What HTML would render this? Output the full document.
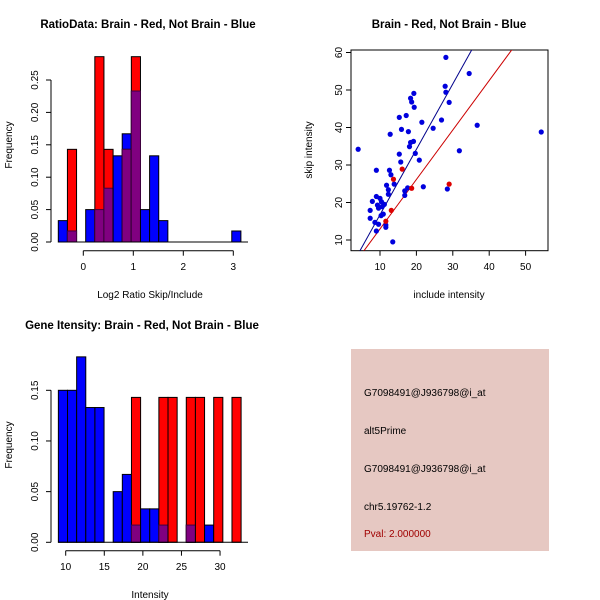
<!DOCTYPE html>
<html><head><meta charset="utf-8"><style>
html,body{margin:0;padding:0;background:#fff;}
svg{display:block;font-family:"Liberation Sans",sans-serif;}
</style></head><body>
<svg id="c" width="600" height="600" viewBox="0 0 600 600" xmlns="http://www.w3.org/2000/svg">
<rect width="600" height="600" fill="#fff"/>
<g id="p1"></g>
<g id="p2"></g>
<g id="p3"></g>
<g id="p4">
<rect x="351" y="349" width="198" height="202" fill="#e6c8c2"/>
<text x="364" y="396" font-size="10" fill="#000">G7098491@J936798@i_at</text>
<text x="364" y="434" font-size="10" fill="#000">alt5Prime</text>
<text x="364" y="472" font-size="10" fill="#000">G7098491@J936798@i_at</text>
<text x="364" y="510" font-size="10" fill="#000">chr5.19762-1.2</text>
<text x="364" y="537" font-size="10" fill="#a00000">Pval: 2.000000</text>
</g>
</svg>
<script>
// ---- Plot 1 data ----
const ratioBinStart = -0.5;
const ratioBinWidth = 0.1826;
const ratioBlue = [0.033,0.017,0,0.05,0.05,0.083,0.133,0.167,0.233,0.05,0.133,0.033,0,0,0,0,0,0,0,0.017];
const ratioRed  = [0,0.143,0,0,0.286,0.143,0,0.143,0.286,0,0,0,0,0,0,0,0,0,0,0];
const ratioXTicks = [0,1,2,3];
const ratioYTicks = ["0.00","0.05","0.10","0.15","0.20","0.25"];
// ---- Plot 2 data ----
const blueX = [4.0,28.1,34.5,27.9,28.1,29.0,36.7,54.3,26.9,24.6,31.8,28.5,21.9,21.5,19.3,18.4,18.7,19.4,17.2,15.3,15.9,17.8,19.2,18.4,18.1,19.7,15.3,15.7,20.8,12.8,9.0,12.6,13.0,13.9,11.8,12.3,12.3,17.6,16.8,16.8,9.0,10.0,10.4,7.9,11.2,9.3,10.6,9.6,7.3,10.9,10.3,7.3,8.6,9.6,11.6,11.6,9.0,13.5];
const blueY = [34.2,58.7,54.4,51.0,49.4,46.7,40.6,38.8,42.0,39.8,33.8,23.6,24.2,41.4,49.1,47.8,46.8,45.4,43.2,42.7,39.5,38.9,36.3,36.0,34.9,33.1,32.9,30.8,31.3,38.2,28.6,28.6,27.4,24.9,24.6,23.4,22.2,23.9,23.1,21.9,21.6,21.1,20.2,20.3,19.5,19.3,18.9,18.5,17.9,16.9,16.5,15.8,14.7,14.2,14.0,13.4,12.4,9.5];
const redX = [16.1,13.7,18.7,29.0,13.1,11.6];
const redY = [28.9,26.2,23.8,24.9,17.9,15.0];
const blueFit = [-0.7,1.744]; // intercept, slope
const redFit = [-0.24,1.319];
const scatXTicks = [10,20,30,40,50];
const scatYTicks = [10,20,30,40,50,60];
// ---- Plot 3 data ----
const geneBinStart = 9.05;
const geneBinWidth = 1.184;
const geneBlue = [0.15,0.15,0.183,0.133,0.133,0,0.05,0.067,0.017,0.033,0.033,0.017,0,0,0.017,0,0.017,0,0,0];
const geneRed  = [0,0,0,0,0,0,0,0,0.143,0,0,0.143,0.143,0,0.143,0.143,0,0.143,0,0.143];
const geneXTicks = [10,15,20,25,30];
const geneYTicks = ["0.00","0.05","0.10","0.15"];

const NS="http://www.w3.org/2000/svg";
function mk(parent,tag,attrs,name,txt){
  const e=document.createElementNS(NS,tag);
  for(const k in attrs) e.setAttribute(k,attrs[k]);
  
  
  if(txt!==undefined) e.textContent=txt;
  parent.appendChild(e); return e;
}
function line(g,x1,y1,x2,y2,name,stroke){return mk(g,'line',{x1,y1,x2,y2,stroke:stroke||'#000','stroke-width':1},name);}
function text(g,x,y,s,name,opt){
  opt=opt||{};
  const a={x,y,'font-size':opt.size||10,'text-anchor':opt.anchor||'middle',fill:opt.fill||'#000'};
  if(opt.bold)a['font-weight']='bold';
  if(opt.rot!==undefined)a.transform=`rotate(${opt.rot} ${x} ${y})`;
  return mk(g,'text',a,name,s);
}
function hist(g,start,w,blue,red,sx,sy,y0){
  for(let i=0;i<blue.length;i++){
    const x0=sx(start+i*w), x1=sx(start+(i+1)*w);
    const b=blue[i], r=red[i];
    if(b>0) mk(g,'rect',{x:x0,y:sy(b),width:x1-x0,height:y0-sy(b),fill:'#0000ff',stroke:'#000','stroke-width':1},'bar-blue-'+i);
    if(r>0) mk(g,'rect',{x:x0,y:sy(r),width:x1-x0,height:y0-sy(r),fill:'#ff0000',stroke:'#000','stroke-width':1},'bar-red-'+i);
    const m=Math.min(b,r);
    if(m>0) mk(g,'rect',{x:x0,y:sy(m),width:x1-x0,height:y0-sy(m),fill:'#800080',stroke:'#400040','stroke-width':1},'bar-overlap-'+i);
  }
}
// Plot 1
(function(){
  const g=document.getElementById('p1');
  const sx=v=>83.3+v*50, sy=v=>242-v*648;
  hist(g,ratioBinStart,ratioBinWidth,ratioBlue,ratioRed,sx,sy,242);
  line(g,58,242,248,242,'zero-line');
  line(g,51,sy(0),51,sy(0.25),'y-axis');
  ratioYTicks.forEach(t=>{const y=sy(+t);line(g,46,y,51,y,'y-tick');text(g,38,y,t,'y-tick-label',{rot:-90});});
  line(g,sx(0),250.7,sx(3),250.7,'x-axis');
  ratioXTicks.forEach(t=>{const x=sx(t);line(g,x,250.7,x,255.7,'x-tick');text(g,x,270,String(t),'x-tick-label');});
  text(g,150,298,'Log2 Ratio Skip/Include','x-axis-title');
  text(g,12,145,'Frequency','y-axis-title',{rot:-90});
  text(g,148,28,'RatioData: Brain - Red, Not Brain - Blue','chart-title',{bold:true,size:11.5});
})();
// Plot 2
(function(){
  const g=document.getElementById('p2');
  const L=351,R=548,T=50,B=250.7;
  const sx=v=>343.6+v*3.64, sy=v=>240-(v-10)*3.75;
  mk(g,'rect',{x:L,y:T,width:R-L,height:B-T,fill:'none',stroke:'#000','stroke-width':1},'plot-box');
  const defs=mk(g,'clipPath',{id:'clp'},'clip');
  mk(defs,'rect',{x:L,y:T,width:R-L,height:B-T},'clip-rect');
  const cg=mk(g,'g',{'clip-path':'url(#clp)'},'plot-area');
  [[blueFit,'#00008b','fit-line-blue'],[redFit,'#cc0000','fit-line-red']].forEach(([f,c,n])=>{
    mk(cg,'line',{x1:sx(0),y1:sy(f[0]),x2:sx(60),y2:sy(f[0]+f[1]*60),stroke:c,'stroke-width':1},n);
  });
  blueX.forEach((x,i)=>mk(cg,'circle',{cx:sx(x),cy:sy(blueY[i]),r:2.6,fill:'#0000dd'},'point-blue'));
  redX.forEach((x,i)=>mk(cg,'circle',{cx:sx(x),cy:sy(redY[i]),r:2.6,fill:'#dd0000'},'point-red'));
  scatYTicks.forEach(t=>{const y=sy(t);line(g,L-5,y,L,y,'y-tick');text(g,L-9,y,String(t),'y-tick-label',{rot:-90});});
  scatXTicks.forEach(t=>{const x=sx(t);line(g,x,B,x,B+5,'x-tick');text(g,x,270,String(t),'x-tick-label');});
  text(g,449,298,'include intensity','x-axis-title');
  text(g,312,150,'skip intensity','y-axis-title',{rot:-90});
  text(g,449,28,'Brain - Red, Not Brain - Blue','chart-title',{bold:true,size:11.5});
})();
// Plot 3
(function(){
  const g=document.getElementById('p3');
  const sx=v=>65.7+(v-10)*7.717, sy=v=>542.3-v*1013.3;
  hist(g,geneBinStart,geneBinWidth,geneBlue,geneRed,sx,sy,542.3);
  line(g,58,542.3,248,542.3,'zero-line');
  line(g,51,sy(0),51,sy(0.15),'y-axis');
  geneYTicks.forEach(t=>{const y=sy(+t);line(g,46,y,51,y,'y-tick');text(g,38,y,t,'y-tick-label',{rot:-90});});
  line(g,sx(10),550.7,sx(30),550.7,'x-axis');
  geneXTicks.forEach(t=>{const x=sx(t);line(g,x,550.7,x,555.7,'x-tick');text(g,x,570,String(t),'x-tick-label');});
  text(g,150,598,'Intensity','x-axis-title');
  text(g,12,445,'Frequency','y-axis-title',{rot:-90});
  text(g,142,329,'Gene Itensity: Brain - Red, Not Brain - Blue','chart-title',{bold:true,size:11.5});
})();
</script>
</body></html>
